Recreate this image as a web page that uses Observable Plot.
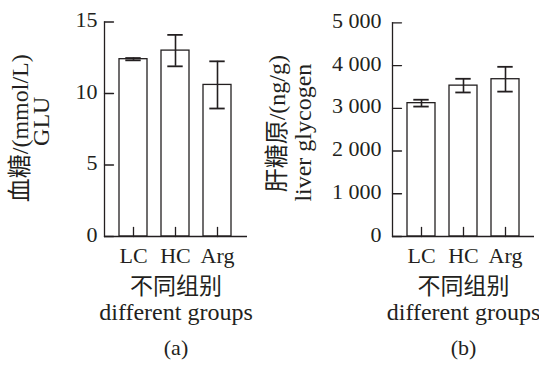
<!DOCTYPE html>
<html><head><meta charset="utf-8">
<script src="https://cdn.jsdelivr.net/npm/d3@7"></script>
<script src="https://cdn.jsdelivr.net/npm/@observablehq/plot@0.6"></script>
<style>
body{margin:0;background:#fff;}
#wrap{display:flex;width:539px;height:365px;overflow:hidden;}
#wrap svg{overflow:visible;display:block;}
</style></head><body><div id="wrap"></div>
<script>
const groups = ["LC", "HC", "Arg"];
const gluMean = [12.4, 13.0, 10.6];
const gluErr = [0.08, 1.1, 1.65];
const glyMean = [3120, 3530, 3680];
const glyErr = [80, 160, 290];
const gluTicks = [0, 5, 10, 15];
const glyTicks = [0, 1000, 2000, 3000, 4000, 5000];
const gluLabel = ["血糖/(mmol/L)", "GLU"];
const glyLabel = ["肝糖原/(ng/g)", "liver glycogen"];
const xLabel = ["不同组别", "different groups"];
const panelTags = ["(a)", "(b)"];

const INK = "#231f20";
const FONT = "'Liberation Serif', 'Noto Sans CJK SC', serif";
// a straight tick segment drawn from the anchor point in the vector's direction
const tickShape = {draw(context, l) { context.moveTo(0, 0); context.lineTo(0, -l); }};

function panel(o) {
  const data = groups.map((g, i) => ({group: g, mean: o.means[i], err: o.errs[i]}));
  const capInset = 6.3;
  const txt = {fontFamily: FONT, fill: INK, textAnchor: "middle", lineAnchor: "middle"};
  return Plot.plot({
    width: o.width, height: 365,
    marginLeft: o.marginLeft, marginRight: o.marginRight,
    marginTop: o.marginTop, marginBottom: 129,
    style: {fontFamily: FONT, fontSize: "22px", color: INK, background: "white", overflow: "visible"},
    x: {domain: groups, padding: 0.33, label: null},
    y: {domain: o.domain, label: null},
    marks: [
      Plot.barY(data, {x: "group", y: "mean", fill: "white", stroke: INK, strokeWidth: 1.3}),
      Plot.ruleX(data, {x: "group", y1: d => d.mean - d.err, y2: d => d.mean + d.err, stroke: INK, strokeWidth: 1.6}),
      Plot.tickY(data, {x: "group", y: d => d.mean + d.err, stroke: INK, strokeWidth: 1.8, insetLeft: capInset, insetRight: capInset}),
      Plot.tickY(data, {x: "group", y: d => d.mean - d.err, stroke: INK, strokeWidth: 1.8, insetLeft: capInset, insetRight: capInset}),
      // inward y ticks
      Plot.vector(o.ticks, {y: d => d, frameAnchor: "left", length: 9, rotate: 90, anchor: "start", shape: tickShape, stroke: INK, strokeWidth: 1.3}),
      // inward x ticks
      Plot.vector(groups, {x: d => d, frameAnchor: "bottom", length: 9, rotate: 0, anchor: "start", shape: tickShape, stroke: INK, strokeWidth: 1.3}),
      Plot.axisY(o.ticks, {tickSize: 0, tickPadding: o.tickPad, tickFormat: o.format, fontSize: 22, fontFamily: FONT, dy: -2, label: null, fill: INK}),
      Plot.axisX({tickSize: 0, tickPadding: 11, fontSize: 22, fontFamily: FONT, label: null, fill: INK}),
      Plot.frame({anchor: "left", stroke: INK, strokeWidth: 1.3}),
      Plot.ruleY([0], {stroke: INK, strokeWidth: 1.3}),
      Plot.text([o.label[0]], {...txt, text: d => d, frameAnchor: "left", rotate: -90, dx: o.labelDx[0], dy: o.labelDy[0], fontSize: 24}),
      Plot.text([o.label[1]], {...txt, text: d => d, frameAnchor: "left", rotate: -90, dx: o.labelDx[1], dy: o.labelDy[1], fontSize: 24}),
      Plot.text([xLabel[0]], {...txt, text: d => d, frameAnchor: "bottom", dy: 50, fontSize: 23}),
      Plot.text([xLabel[1]], {...txt, text: d => d, frameAnchor: "bottom", dy: 76, fontSize: 24}),
      Plot.text([o.tag], {...txt, text: d => d, frameAnchor: "bottom", dy: 111, fontSize: 22})
    ]
  });
}

const spaceFmt = d => d3.format(",")(d).replace(/,/g, " ");

const wrap = document.getElementById("wrap");
wrap.append(panel({
  means: gluMean, errs: gluErr, ticks: gluTicks, domain: [0, 15],
  width: 265, marginLeft: 104, marginRight: 18, marginTop: 21.5, tickPad: 7,
  format: d => String(d), label: gluLabel, labelDx: [-84, -63], labelDy: [-1, -8], tag: panelTags[0]
}));
wrap.append(panel({
  means: glyMean, errs: glyErr, ticks: glyTicks, domain: [0, 5000],
  width: 274, marginLeft: 127, marginRight: 5, marginTop: 22.3, tickPad: 11,
  format: spaceFmt, label: glyLabel, labelDx: [-115, -89], labelDy: [-6, 3], tag: panelTags[1]
}));
</script></body></html>
